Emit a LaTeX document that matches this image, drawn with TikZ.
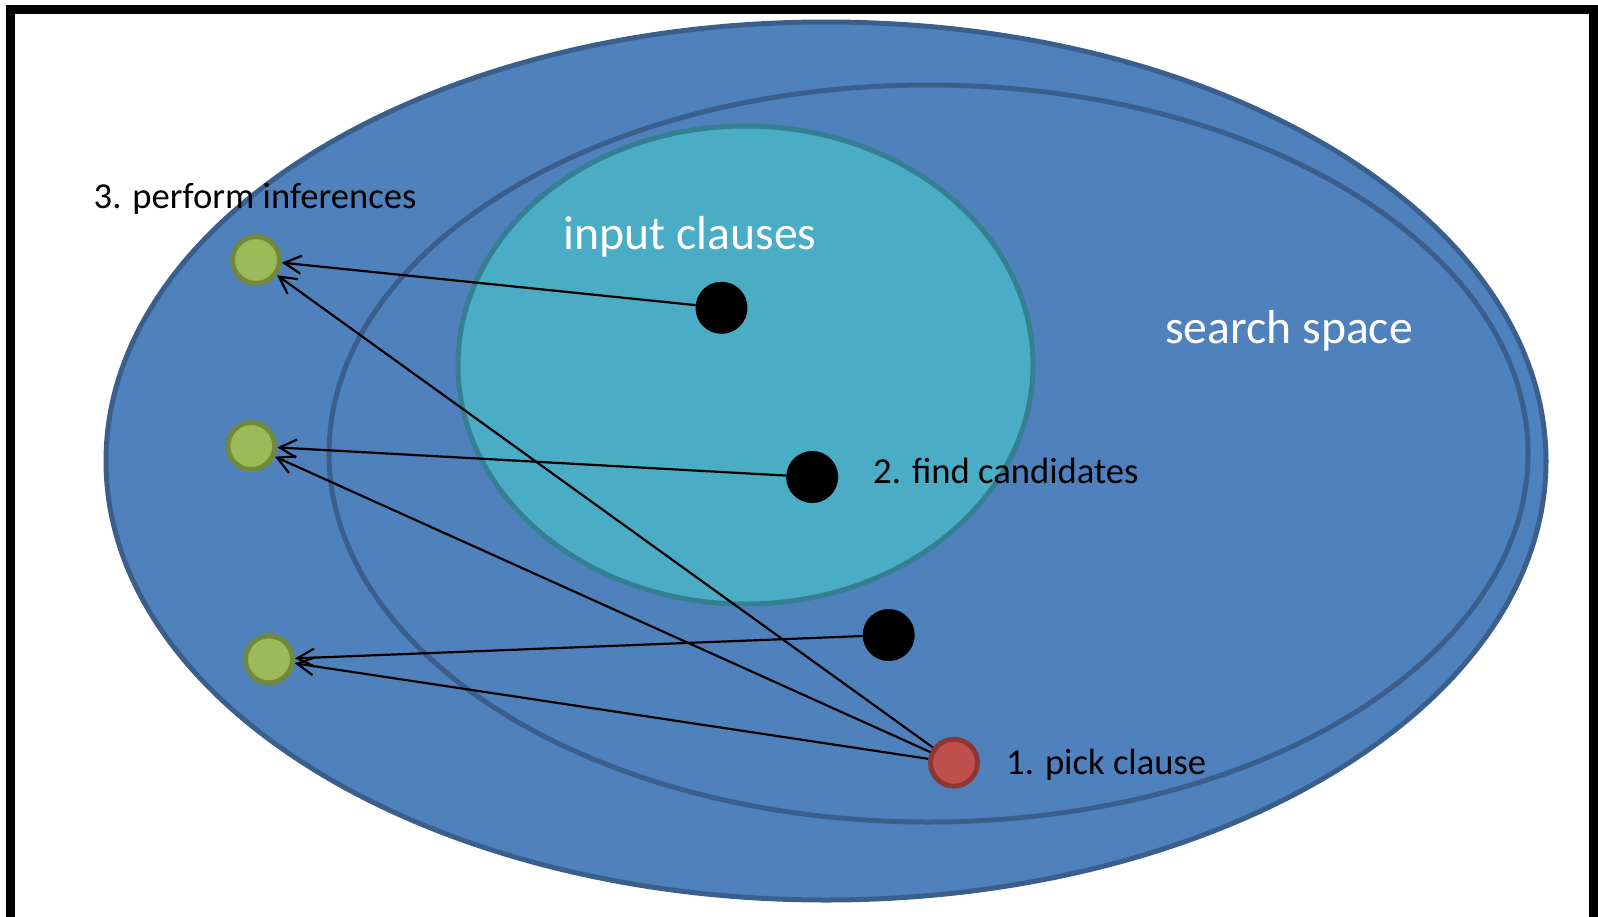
\documentclass[tikz,border=0pt]{standalone}
\usepackage{fontspec}
\setmainfont{Carlito}
\usetikzlibrary{arrows.meta}

\definecolor{spacefill}{HTML}{4F81BD}
\definecolor{spaceline}{HTML}{3A5F8D}
\definecolor{inputfill}{HTML}{4BACC6}
\definecolor{inputline}{HTML}{357F93}
\definecolor{resfill}{HTML}{9BBB59}
\definecolor{resline}{HTML}{71893F}
\definecolor{pickfill}{HTML}{C0504D}
\definecolor{pickline}{HTML}{8C3836}

\begin{document}
\begin{tikzpicture}[x=1pt,y=-1pt,
  region/.style={line width=5pt, draw=spaceline, fill=spacefill},
  inputregion/.style={line width=5pt, draw=inputline, fill=inputfill},
  result/.style={circle, inner sep=0pt, minimum size=47pt, line width=5pt, draw=resline, fill=resfill},
  picked/.style={circle, inner sep=0pt, minimum size=47pt, line width=5pt, draw=pickline, fill=pickfill},
  clause/.style={circle, inner sep=0pt, outer sep=0pt, minimum size=52pt, fill=black},
  steplabel/.style={anchor=base west, inner sep=0pt, font=\fontsize{36.6}{44}\selectfont},
  regionlabel/.style={anchor=base west, inner sep=0pt, text=white, font=\fontsize{47.7}{57}\selectfont},
  link/.style={line width=2.2pt, -{Straight Barb[length=17pt, width=18pt]}}
]
\useasboundingbox (0,0) rectangle (1598,916);
\clip (0,0) rectangle (1598,916);

% frame
\draw[line width=9pt] (10.5,9.5) rectangle (1593.5,922);

% search space and its inner region
\path[region] (826,461) ellipse [x radius=720, y radius=439];
\path[region] (928.5,453.5) ellipse [x radius=599.5, y radius=368.5];
% input clauses
\path[inputregion] (745.5,365) ellipse [x radius=287.5, y radius=239];

% labels
\node[regionlabel] (inlabel) at (563.5,249.5) {input clauses};
\node[regionlabel] (sslabel) at (1165,343.5) {search space};
\node[steplabel] (perf) at (93.5,208.5) {3. perform inferences};
\node[steplabel] (find) at (873,483.5) {2. find candidates};
\node[steplabel] (pick) at (1006,774.5) {1. pick clause};

% clauses
\node[result] (g1) at (256,260) {};
\node[result] (g2) at (251.3,446) {};
\node[result] (g3) at (269,659.4) {};
\node[picked] (r) at (954,762.7) {};
\node[clause] (c1) at (721.5,307.8) {};
\node[clause] (c2) at (812.2,477) {};
\node[clause] (c3) at (888.7,635) {};

% inferences
\draw[link] (c1) -- (g1);
\draw[link] (r) -- (g1);
\draw[link] (c2) -- (g2);
\draw[link] (r) -- (g2);
\draw[link] (c3) -- (g3);
\draw[link] (r) -- (g3);
\end{tikzpicture}
\end{document}
